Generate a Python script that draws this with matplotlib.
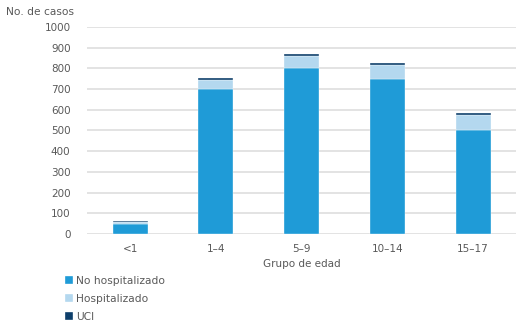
import matplotlib
matplotlib.use("Agg")
import matplotlib.pyplot as plt
import numpy as np

grupos = ["<1", "1\u20134", "5\u20139", "10\u201314", "15\u201317"]
no_hosp = [50, 700, 800, 750, 500]
hosp = [10, 46, 58, 67, 75]
uci = [4, 6, 10, 9, 10]

c_no = "#1f9bd7"
c_hosp = "#b4d8ef"
c_uci = "#0e3f6b"
gris = "#595959"

plt.rcParams["font.family"] = ["DejaVu Sans"]

fig = plt.figure(figsize=(5.16, 3.29), dpi=100)
ax = fig.add_axes([0.169, 0.289, 0.831, 0.629])

x = np.arange(len(grupos))
w = 0.41
no_hosp = np.array(no_hosp)
hosp = np.array(hosp)
uci = np.array(uci)

ax.bar(x, no_hosp, w, color=c_no, edgecolor="white", linewidth=0.25, zorder=3, label="No hospitalizado")
ax.bar(x, hosp, w, bottom=no_hosp, color=c_hosp, edgecolor="white", linewidth=0.25, zorder=3, label="Hospitalizado")
ax.bar(x, uci, w, bottom=no_hosp + hosp, color=c_uci, edgecolor="white", linewidth=0.25, zorder=3, label="UCI")

ax.set_xlim(-0.5, len(grupos) - 0.5)
ax.set_ylim(0, 1000)
ax.set_yticks(np.arange(0, 1001, 100))
ax.yaxis.grid(True, color="#e3e3e3", linewidth=1.4, zorder=0)
ax.set_axisbelow(True)
for s in ax.spines.values():
    s.set_visible(False)
ax.tick_params(axis="both", length=0, colors=gris, labelsize=7.5)
ax.tick_params(axis="y", pad=12)
ax.tick_params(axis="x", pad=7)
ax.set_xticks(x)
ax.set_xticklabels(grupos)
ax.set_xlabel("Grupo de edad", color=gris, fontsize=7.5, labelpad=4)

fig.text(0.012, 0.965, "No. de casos", color=gris, fontsize=7.7, ha="left", va="center")

handles, labels = ax.get_legend_handles_labels()
leg = fig.legend(handles, labels, loc="upper left", bbox_to_anchor=(0.118, 0.175),
                 frameon=False, fontsize=7.7, labelcolor=gris, handlelength=0.72,
                 handleheight=0.72, handletextpad=0.3, labelspacing=0.75, borderaxespad=0)

fig.savefig("out.png", dpi=100)
